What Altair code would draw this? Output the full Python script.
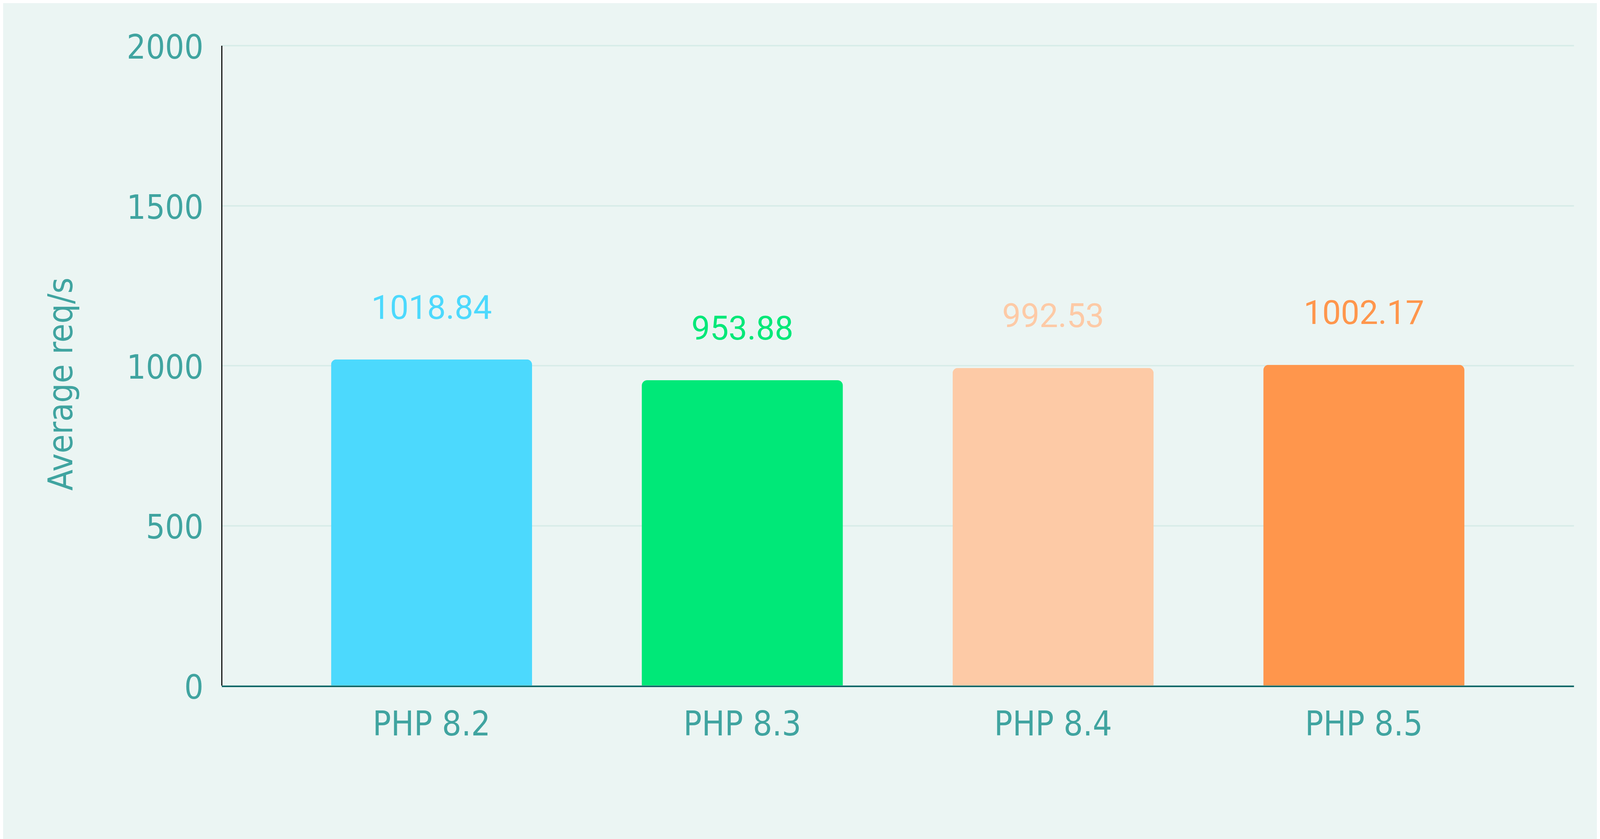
import altair as alt
import pandas as pd

versions = ["PHP 8.2", "PHP 8.3", "PHP 8.4", "PHP 8.5"]
values = [1018.84, 953.88, 992.53, 1002.17]
colors = ["#4cd9fd", "#00e878", "#fdcaa6", "#ff964c"]
y_ticks = [0, 500, 1000, 1500, 2000]

df = pd.DataFrame({"version": versions, "value": values})

AXIS_FONT = "DejaVu Sans Condensed"
TEAL = "#40a4a0"

x = alt.X(
    "version:N",
    sort=versions,
    scale=alt.Scale(paddingInner=0.353, paddingOuter=0.352),
    axis=alt.Axis(
        title=None,
        labelAngle=0,
        labelFont=AXIS_FONT,
        labelFontSize=94,
        labelColor=TEAL,
        labelPadding=62,
        labelBaseline="top",
        labelLimit=0,
        ticks=False,
        tickSize=0,
        grid=False,
        domainColor="#035f5f",
        domainWidth=4,
        offset=2,
    ),
)

y = alt.Y(
    "value:Q",
    scale=alt.Scale(domain=[0, 2000], nice=False, zero=True),
    axis=alt.Axis(
        title="Average req/s",
        values=y_ticks,
        format="d",
        labelFont=AXIS_FONT,
        labelFontSize=93,
        labelColor=TEAL,
        labelPadding=51,
        labelOffset=8,
        labelLimit=0,
        ticks=False,
        tickSize=0,
        grid=True,
        gridColor="#d7ece8",
        gridWidth=4,
        domainColor="#000000",
        domainWidth=3,
        titleFont=AXIS_FONT,
        titleFontSize=95,
        titleFontWeight="normal",
        titleColor=TEAL,
        titleAngle=270,
        titleAlign="center",
        titleBaseline="alphabetic",
        titleX=-415,
        titleY=938,
    ),
)

color = alt.Color(
    "version:N",
    scale=alt.Scale(domain=versions, range=colors),
    legend=None,
)

bars = alt.Chart(df).mark_bar(
    cornerRadiusTopLeft=15, cornerRadiusTopRight=15
).encode(x=x, y=y, color=color)

labels = alt.Chart(df).mark_text(
    font="Roboto",
    fontSize=92,
    baseline="alphabetic",
    align="center",
    dy=-113,
).encode(
    x=alt.X("version:N", sort=versions),
    y=alt.Y("value:Q"),
    text=alt.Text("value:Q", format=".2f"),
    color=color,
)

chart = (
    alt.layer(bars, labels)
    .properties(
        width=3750,
        height=1774,
        background="#ebf5f3",
        autosize=alt.AutoSizeParams(type="none"),
        padding={"left": 606, "top": 28, "right": 64, "bottom": 347},
    )
    .configure_view(stroke=None)
)

chart.save("out.html", embed_options={"renderer": "svg", "actions": False})
